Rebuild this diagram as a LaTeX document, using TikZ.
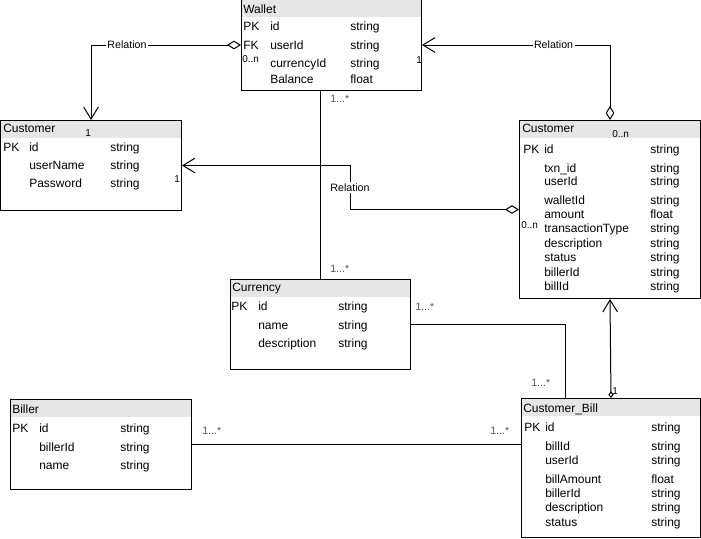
\documentclass[tikz,border=0pt]{standalone}
\usepackage{fontspec}
\setmainfont{Liberation Sans}
\usetikzlibrary{arrows.meta,calc}
\definecolor{hdrgray}{HTML}{E6E6E6}
\definecolor{multgray}{HTML}{555555}
\newcommand\tcell[5][txt]{\node[#1] (#2) at (#3,#4) {#5};}
\begin{document}
\begin{tikzpicture}[x=0.75pt,y=-0.75pt,
  tbl/.style={draw, line width=0.75pt, inner sep=0, anchor=north west},
  hdr/.style={fill=hdrgray, inner sep=0, anchor=north west, minimum height=17.5*0.75pt},
  txt/.style={anchor=west, inner sep=0, font=\fontsize{9}{11}\selectfont, text height=1.5ex, text depth=.25ex},
  sm/.style={txt, font=\fontsize{7.5}{9}\selectfont},
  mult/.style={txt, text=multgray, font=\fontsize{8}{10}\selectfont},
  rel/.style={fill=white, inner sep=1pt, font=\fontsize{8}{10}\selectfont},
  conn/.style={line width=0.75pt},
  aggr/.style={{Diamond[open,length=10.5pt,width=6.5pt]}-{Straight Barb[length=9pt,width=11pt]}}
]
\useasboundingbox (0,0) rectangle (701,539);
\fill[white] (0,0) rectangle (701,539);
% headers
\node[hdr, minimum width=180*0.75pt] (walleth) at (241,-1) {};
\node[hdr, minimum width=181*0.75pt] (custLh) at (0,120) {};
\node[hdr, minimum width=181*0.75pt] (custRh) at (519,120) {};
\node[hdr, minimum width=180*0.75pt] (currencyh) at (230,279) {};
\node[hdr, minimum width=181*0.75pt] (billerh) at (10,399) {};
\node[hdr, minimum width=179*0.75pt] (custBillh) at (521,398) {};
% boxes
\node[tbl, minimum width=180*0.75pt, minimum height=91*0.75pt] (wallet) at (241,-1) {};
\node[tbl, minimum width=181*0.75pt, minimum height=90*0.75pt] (custL) at (0,120) {};
\node[tbl, minimum width=181*0.75pt, minimum height=178*0.75pt] (custR) at (519,120) {};
\node[tbl, minimum width=180*0.75pt, minimum height=90*0.75pt] (currency) at (230,279) {};
\node[tbl, minimum width=181*0.75pt, minimum height=90*0.75pt] (biller) at (10,399) {};
\node[tbl, minimum width=179*0.75pt, minimum height=139*0.75pt] (custBill) at (521,398) {};
% Wallet
\tcell{wT}{243}{9}{Wallet}
\tcell{wa1}{243}{26}{PK}\tcell{wb1}{270}{26}{id}\tcell{wc1}{350}{26}{string}
\tcell{wa2}{243}{45}{FK}\tcell{wb2}{270}{45}{userId}\tcell{wc2}{350}{45}{string}
\tcell{wb3}{270}{63}{currencyId}\tcell{wc3}{350}{63}{string}
\tcell{wb4}{270}{79}{Balance}\tcell{wc4}{350}{79}{float}
\tcell[sm]{wm1}{242}{58}{0..n}
\tcell[sm]{wm2}{416}{59}{1}
% Customer left
\tcell{lT}{3}{128}{Customer}
\tcell{la1}{3}{147}{PK}\tcell{lb1}{29}{147}{id}\tcell{lc1}{110}{147}{string}
\tcell{lb2}{29}{165}{userName}\tcell{lc2}{110}{165}{string}
\tcell{lb3}{29}{183}{Password}\tcell{lc3}{110}{183}{string}
\tcell[sm]{lm1}{85}{132}{1}
\tcell[sm]{lm2}{174}{178}{1}
% Customer right
\tcell{rT}{522}{128}{Customer}
\tcell[sm]{rm1}{612}{133}{0..n}
\tcell[sm]{rm2}{521}{224}{0..n}
\tcell{ra1}{523}{149}{PK}\tcell{rb1}{544}{149}{id}\tcell{rc1}{650}{149}{string}
\tcell{rb2}{544}{168}{txn\_id}\tcell{rc2}{650}{168}{string}
\tcell{rb3}{544}{181}{userId}\tcell{rc3}{650}{181}{string}
\tcell{rb4}{544}{200}{walletId}\tcell{rc4}{650}{200}{string}
\tcell{rb5}{544}{214}{amount}\tcell{rc5}{650}{214}{float}
\tcell{rb6}{544}{228}{transactionType}\tcell{rc6}{650}{228}{string}
\tcell{rb7}{544}{243}{description}\tcell{rc7}{650}{243}{string}
\tcell{rb8}{544}{257}{status}\tcell{rc8}{650}{257}{string}
\tcell{rb9}{544}{272}{billerId}\tcell{rc9}{650}{272}{string}
\tcell{rb10}{544}{286}{billId}\tcell{rc10}{650}{286}{string}
% Currency
\tcell{cT}{232}{287}{Currency}
\tcell{ca1}{231}{306}{PK}\tcell{cb1}{258}{306}{id}\tcell{cc1}{338}{306}{string}
\tcell{cb2}{258}{325}{name}\tcell{cc2}{338}{325}{string}
\tcell{cb3}{258}{343}{description}\tcell{cc3}{338}{343}{string}
% Biller
\tcell{bT}{12}{409}{Biller}
\tcell{ba1}{12}{428}{PK}\tcell{bb1}{39}{428}{id}\tcell{bc1}{120}{428}{string}
\tcell{bb2}{39}{447}{billerId}\tcell{bc2}{120}{447}{string}
\tcell{bb3}{39}{465}{name}\tcell{bc3}{120}{465}{string}
% Customer_Bill
\tcell{kT}{523}{408}{Customer\_Bill}
\tcell{ka1}{524}{427}{PK}\tcell{kb1}{545}{427}{id}\tcell{kc1}{651}{427}{string}
\tcell{kb2}{545}{446}{billId}\tcell{kc2}{651}{446}{string}
\tcell{kb3}{545}{460}{userId}\tcell{kc3}{651}{460}{string}
\tcell{kb4}{545}{479}{billAmount}\tcell{kc4}{651}{479}{float}
\tcell{kb5}{545}{493}{billerId}\tcell{kc5}{651}{493}{string}
\tcell{kb6}{545}{507}{description}\tcell{kc6}{651}{507}{string}
\tcell{kb7}{545}{522}{status}\tcell{kc7}{651}{522}{string}
% connectors
\draw[conn, aggr] (wallet.west) -| node[rel, pos=0.38] (r1) {Relation} (custL.north);
\draw[conn, aggr] (custR.north) |- node[rel, pos=0.65] (r2) {Relation} (wallet.east);
\coordinate (k3) at (350,0);
\draw[conn, aggr] (custR.west) -| (k3 |- custR.west) -- node[rel, pos=0.5] (r3) {Relation} (k3 |- custL.east) -- (custL.east);
\draw[conn] (currency.north |- wallet.south) -- (currency.north);
\coordinate (k5) at ($(custBill.north west)+(44,0)$);
\draw[conn] (currency.east) -| (k5);
\draw[conn] (biller.east) -- (biller.east -| custBill.west);
\draw[conn, {Diamond[open,length=5pt,width=4pt]}-{Straight Barb[length=9pt,width=11pt]}] (custBill.north) -- (custR.south);
\tcell[sm]{km}{612}{390}{1}
% multiplicities
\tcell[mult]{m1}{330}{98}{1...*}
\tcell[mult]{m2}{330}{268}{1...*}
\tcell[mult]{m3}{415}{306}{1...*}
\tcell[mult]{m4}{531}{382}{1...*}
\tcell[mult]{m5}{202}{430}{1...*}
\tcell[mult]{m6}{490}{430}{1...*}
\end{tikzpicture}
\end{document}
